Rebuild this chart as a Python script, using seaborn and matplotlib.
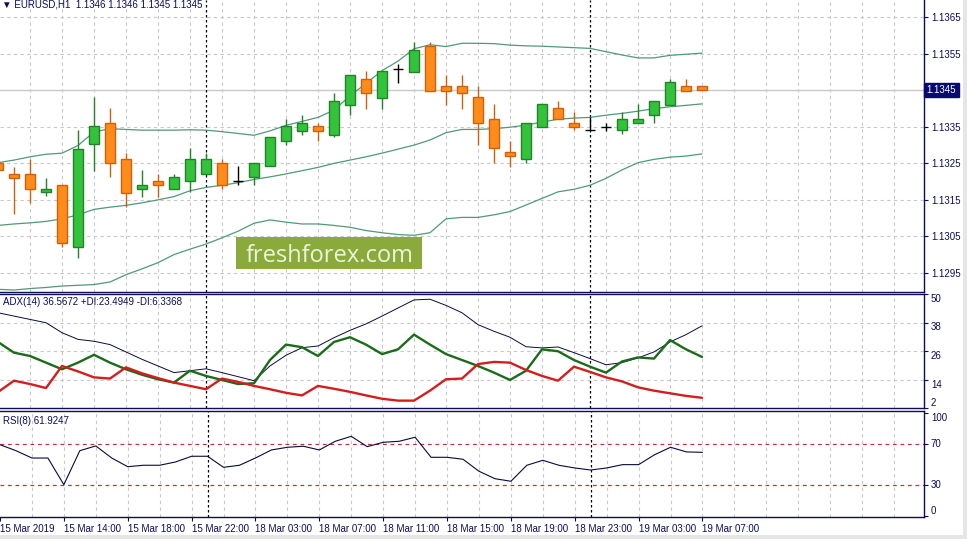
import matplotlib
matplotlib.use("Agg")
import matplotlib.pyplot as plt
from matplotlib.patches import Rectangle
import pandas as pd
import seaborn as sns

sns.set_style("white")
plt.rcParams["font.family"] = ["Liberation Sans", "DejaVu Sans"]

# —————————————————————————————————————————————————————————————————————
# Data (EURUSD H1, 45 bars)
# —————————————————————————————————————————————————————————————————————
opens = [1.13250, 1.13220, 1.13220, 1.13170, 1.13190, 1.13019, 1.13301, 1.13359, 1.13260, 1.13180,
         1.13201, 1.13180, 1.13200, 1.13220, 1.13249, 1.13200, 1.13211, 1.13242, 1.13309, 1.13339,
         1.13351, 1.13328, 1.13409, 1.13479, 1.13429, 1.13508, 1.13500, 1.13571, 1.13461, 1.13461,
         1.13430, 1.13370, 1.13279, 1.13260, 1.13350, 1.13400, 1.13359, 1.13340, 1.13350, 1.13340,
         1.13359, 1.13381, 1.13410, 1.13461, 1.13460]
highs = [1.13260, 1.13240, 1.13260, 1.13210, 1.13190, 1.13340, 1.13431, 1.13400, 1.13278, 1.13231,
         1.13220, 1.13220, 1.13290, 1.13277, 1.13260, 1.13242, 1.13249, 1.13320, 1.13371, 1.13381,
         1.13360, 1.13442, 1.13491, 1.13503, 1.13501, 1.13520, 1.13582, 1.13582, 1.13491, 1.13491,
         1.13461, 1.13412, 1.13310, 1.13359, 1.13412, 1.13420, 1.13390, 1.13375, 1.13360, 1.13390,
         1.13412, 1.13420, 1.13480, 1.13480, 1.13460]
lows = [1.13220, 1.13110, 1.13140, 1.13160, 1.13020, 1.12989, 1.13229, 1.13211, 1.13129, 1.13158,
        1.13158, 1.13180, 1.13171, 1.13220, 1.13180, 1.13189, 1.13189, 1.13242, 1.13300, 1.13328,
        1.13309, 1.13321, 1.13382, 1.13399, 1.13399, 1.13470, 1.13500, 1.13448, 1.13410, 1.13399,
        1.13300, 1.13249, 1.13240, 1.13249, 1.13350, 1.13370, 1.13340, 1.13340, 1.13339, 1.13329,
        1.13359, 1.13359, 1.13410, 1.13448, 1.13450]
closes = [1.13231, 1.13210, 1.13180, 1.13180, 1.13030, 1.13289, 1.13351, 1.13249, 1.13169, 1.13189,
          1.13189, 1.13211, 1.13260, 1.13260, 1.13189, 1.13200, 1.13249, 1.13320, 1.13351, 1.13359,
          1.13339, 1.13419, 1.13491, 1.13441, 1.13501, 1.13508, 1.13560, 1.13448, 1.13448, 1.13441,
          1.13359, 1.13290, 1.13270, 1.13359, 1.13412, 1.13370, 1.13350, 1.13340, 1.13350, 1.13370,
          1.13370, 1.13420, 1.13471, 1.13448, 1.13450]

bb_upper = [1.13251, 1.13258, 1.13267, 1.13274, 1.13277, 1.13298, 1.13335, 1.13344, 1.13342, 1.13340,
            1.13340, 1.13340, 1.13341, 1.13340, 1.13336, 1.13331, 1.13326, 1.13338, 1.13353, 1.13364,
            1.13375, 1.13395, 1.13434, 1.13468, 1.13503, 1.13529, 1.13563, 1.13574, 1.13569, 1.13578,
            1.13578, 1.13577, 1.13573, 1.13571, 1.13570, 1.13568, 1.13566, 1.13564, 1.13555, 1.13546,
            1.13538, 1.13538, 1.13545, 1.13548, 1.13551]
bb_mid = [1.13079, 1.13083, 1.13086, 1.13090, 1.13097, 1.13108, 1.13123, 1.13129, 1.13134, 1.13141,
          1.13149, 1.13158, 1.13174, 1.13183, 1.13189, 1.13196, 1.13205, 1.13212, 1.13220, 1.13229,
          1.13238, 1.13249, 1.13258, 1.13267, 1.13277, 1.13288, 1.13299, 1.13313, 1.13333, 1.13342,
          1.13342, 1.13344, 1.13348, 1.13354, 1.13362, 1.13370, 1.13373, 1.13375, 1.13381, 1.13386,
          1.13392, 1.13399, 1.13404, 1.13408, 1.13412]
bb_lower = [1.12904, 1.12902, 1.12906, 1.12909, 1.12913, 1.12915, 1.12917, 1.12924, 1.12944, 1.12960,
            1.12977, 1.12999, 1.13014, 1.13028, 1.13045, 1.13063, 1.13085, 1.13094, 1.13088, 1.13083,
            1.13083, 1.13079, 1.13074, 1.13065, 1.13059, 1.13054, 1.13052, 1.13059, 1.13097, 1.13101,
            1.13101, 1.13108, 1.13117, 1.13135, 1.13153, 1.13171, 1.13178, 1.13189, 1.13208, 1.13231,
            1.13251, 1.13260, 1.13266, 1.13269, 1.13275]

adx = [42.1, 40.7, 39.3, 37.9, 33.7, 30.9, 30.1, 28.7, 25.6, 22.5, 19.7, 16.9, 17.7, 18.5, 16.9,
       15.2, 13.5, 19.7, 24.2, 27.4, 28.1, 31.6, 34.7, 37.4, 40.7, 44.1, 47.5, 47.8, 45.2, 42.1,
       37.1, 34.3, 31.8, 27.8, 27.3, 27.7, 25.3, 22.8, 20.2, 21.1, 23.1, 25.6, 29.8, 32.9, 36.6]
plus_di = [29.8, 25.3, 23.9, 21.1, 18.3, 21.1, 24.4, 21.1, 18.3, 16.0, 14.1, 12.7, 17.7, 15.5, 13.8,
           12.1, 12.4, 22.2, 28.7, 27.6, 23.9, 29.8, 31.8, 28.7, 24.7, 26.7, 32.9, 28.7, 24.7, 22.2,
           19.7, 16.9, 13.8, 17.7, 26.7, 25.9, 22.2, 19.4, 16.9, 21.6, 23.3, 22.8, 30.6, 26.7, 23.5]
minus_di = [8.7, 13.5, 12.1, 10.4, 19.7, 17.4, 14.9, 14.4, 19.1, 16.6, 14.6, 12.7, 11.3, 9.9, 14.4,
            13.0, 11.3, 9.9, 8.4, 7.3, 11.3, 10.1, 8.8, 7.3, 5.9, 5.1, 5.1, 9.3, 14.1, 14.4,
            20.5, 21.4, 21.1, 18.0, 15.5, 13.5, 19.4, 17.2, 14.9, 13.2, 10.7, 9.3, 8.2, 7.1, 6.3]
rsi = [69.3, 63.5, 56.4, 56.4, 30.6, 63.5, 68.1, 56.4, 48.0, 49.4, 49.4, 52.6, 58.1, 58.1, 47.4,
       49.4, 56.4, 64.2, 66.8, 67.8, 64.2, 72.6, 77.4, 67.4, 71.6, 72.6, 76.5, 57.1, 57.1, 55.2,
       43.6, 36.4, 33.9, 49.4, 54.2, 49.4, 46.8, 44.8, 46.8, 50.0, 50.0, 59.6, 66.8, 62.3, 61.9]

time_ticks = [0, 4, 8, 12, 16, 20, 24, 28, 32, 36, 40, 44]
time_labels = ["15 Mar 2019", "15 Mar 14:00", "15 Mar 18:00", "15 Mar 22:00", "18 Mar 03:00",
               "18 Mar 07:00", "18 Mar 11:00", "18 Mar 15:00", "18 Mar 19:00", "18 Mar 23:00",
               "19 Mar 03:00", "19 Mar 07:00"]
day_breaks = [13, 37]
price_ticks = [1.1295, 1.1305, 1.1315, 1.1325, 1.1335, 1.1345, 1.1355, 1.1365]
adx_ticks = [50, 38, 26, 14, 2]
rsi_ticks = [100, 70, 30, 0]
rsi_levels = [70, 30]
last_price = 1.1345

NAVY = "#0c0c5a"
GRID = "#c8c8c8"
UP, UP_EDGE = "#33c33a", "#23832a"
DN, DN_EDGE = "#ff8c1a", "#d2600a"
BAND = "#4f9a78"

df = pd.DataFrame({"bar": range(len(opens)), "open": opens, "high": highs, "low": lows,
                   "close": closes, "upper": bb_upper, "mid": bb_mid, "lower": bb_lower,
                   "adx": adx, "pdi": plus_di, "mdi": minus_di, "rsi": rsi})

# —————————————————————————————————————————————————————————————————————
# Layout (pixel boxes of an MT4 window)
# —————————————————————————————————————————————————————————————————————
W, H = 967, 539
fig = plt.figure(figsize=(W / 100, H / 100), dpi=100)
fig.patch.set_facecolor("white")

def pix_axes(top, bottom):
    return fig.add_axes([0, (H - bottom) / H, 924 / W, (bottom - top) / H])

ax_main = pix_axes(0, 292)
ax_adx = pix_axes(294, 408)
ax_rsi = pix_axes(411, 517)

for ax in (ax_main, ax_adx, ax_rsi):
    ax.set_xlim(0.125, 57.875)
    ax.set_facecolor("white")
    for s in ("top", "bottom", "right"):
        ax.spines[s].set_color(NAVY)
        ax.spines[s].set_linewidth(1.0)
    ax.spines["left"].set_visible(False)
    ax.yaxis.tick_right()
    ax.tick_params(axis="y", direction="out", length=3, width=0.8, color=NAVY,
                   labelsize=7, labelcolor=NAVY, pad=2)
    ax.tick_params(axis="x", bottom=False, labelbottom=False)
    for b in range(2, 58, 2):
        ax.axvline(b, color=GRID, lw=0.8, dashes=(3, 3), zorder=0)
    for b in day_breaks:
        ax.axvline(b, color="black", lw=0.9, dashes=(2, 2), zorder=1)
ax_main.spines["top"].set_visible(False)

# —————————————————————————————————————————————————————————————————————
# Main: candles + bands
# —————————————————————————————————————————————————————————————————————
ax_main.set_ylim(1.128966, 1.136966)
# the last price gets its own boxed label, so its plain tick label stays empty
ax_main.set_yticks(price_ticks, ["" if p == last_price else f"{p:.4f}" for p in price_ticks])
for p in price_ticks:
    if p != last_price:
        ax_main.axhline(p, color=GRID, lw=0.8, dashes=(3, 3), zorder=0)
ax_main.axhline(last_price, color="#c8c8c8", lw=1.0, zorder=0)

for col in ("upper", "mid", "lower"):
    sns.lineplot(data=df, x="bar", y=col, ax=ax_main, color=BAND, lw=0.9, zorder=2)

for _, r in df.iterrows():
    if r["close"] > r["open"]:
        face, edge = UP, UP_EDGE
    elif r["close"] < r["open"]:
        face, edge = DN, DN_EDGE
    else:
        face, edge = None, "black"
    ax_main.vlines(r["bar"], r["low"], r["high"], color=edge, lw=1.0, zorder=3)
    if face is None:
        ax_main.hlines(r["close"], r["bar"] - 0.34, r["bar"] + 0.34, color="black", lw=1.0, zorder=4)
    else:
        ax_main.bar(r["bar"], abs(r["close"] - r["open"]), bottom=min(r["open"], r["close"]),
                    width=0.62, color=face, edgecolor=edge, lw=1.0, zorder=4)

ax_main.text(1.003, last_price, "1.1345", transform=ax_main.get_yaxis_transform(),
             ha="left", va="center", fontsize=7, color="white", zorder=10, clip_on=False,
             bbox=dict(boxstyle="square,pad=0.25", fc="#0a0a6e", ec="#0a0a6e"))
ax_main.text(0.002, 0.983, "▼ EURUSD,H1  1.1346 1.1346 1.1345 1.1345", transform=ax_main.transAxes,
             ha="left", va="center", fontsize=7, color=NAVY)
ax_main.set_xlabel("")
ax_main.set_ylabel("")

# —————————————————————————————————————————————————————————————————————
# ADX(14)
# —————————————————————————————————————————————————————————————————————
ax_adx.set_ylim(2, 50)
ax_adx.set_yticks(adx_ticks, [str(t) for t in adx_ticks])
for t in adx_ticks[1:-1]:
    ax_adx.axhline(t, color=GRID, lw=0.8, dashes=(3, 3), zorder=0)
sns.lineplot(data=df, x="bar", y="adx", ax=ax_adx, color="#0a0a3c", lw=0.7, zorder=3)
sns.lineplot(data=df, x="bar", y="pdi", ax=ax_adx, color="#1b6b1b", lw=1.7, zorder=4)
sns.lineplot(data=df, x="bar", y="mdi", ax=ax_adx, color="#d41e1e", lw=1.7, zorder=4)
for lab, t in zip(ax_adx.get_yticklabels(), adx_ticks):
    lab.set_va("bottom" if t == 2 else "top")
ax_adx.text(0.003, 0.93, "ADX(14) 36.5672 +DI:23.4949 -DI:6.3368", transform=ax_adx.transAxes,
            ha="left", va="center", fontsize=7, color=NAVY)
ax_adx.set_xlabel("")
ax_adx.set_ylabel("")

# —————————————————————————————————————————————————————————————————————
# RSI(8)
# —————————————————————————————————————————————————————————————————————
ax_rsi.set_ylim(-0.67, 101.9)
ax_rsi.set_yticks(rsi_ticks, [str(t) for t in rsi_ticks])
for lv in rsi_levels:
    ax_rsi.axhline(lv, color="#c83232", lw=0.9, dashes=(3, 3), zorder=1)
sns.lineplot(data=df, x="bar", y="rsi", ax=ax_rsi, color="#0a0a3c", lw=0.8, zorder=3)
for lab, t in zip(ax_rsi.get_yticklabels(), rsi_ticks):
    lab.set_va({100: "top", 0: "bottom"}.get(t, "center"))
ax_rsi.text(0.003, 0.906, "RSI(8) 61.9247", transform=ax_rsi.transAxes,
            ha="left", va="center", fontsize=7, color=NAVY)
ax_rsi.set_xlabel("")
ax_rsi.set_ylabel("")

ax_rsi.set_xticks(time_ticks, time_labels)
ax_rsi.tick_params(axis="x", bottom=True, labelbottom=True, direction="out", length=3,
                   width=0.8, color=NAVY, labelsize=7, labelcolor=NAVY, pad=2)
for lab in ax_rsi.get_xticklabels():
    lab.set_ha("left")

# watermark
fig.patches.append(Rectangle((236 / W, (H - 269) / H), 186 / W, 32 / H, transform=fig.transFigure,
                             facecolor="#8aab3c", edgecolor="none", zorder=20))
fig.text(329.5 / W, (H - 262) / H, "freshforex.com", ha="center", va="baseline",
         fontsize=17, color="#eef4dc", family=["Open Sans", "DejaVu Sans"], zorder=21)

# window frame
fig.patches.append(Rectangle((0, 0), 1, 4 / H, transform=fig.transFigure,
                             facecolor="#e6e6e6", edgecolor="none"))
fig.patches.append(Rectangle((1 - 4 / W, 0), 4 / W, 1, transform=fig.transFigure,
                             facecolor="#e6e6e6", edgecolor="none"))

fig.savefig("out.png", dpi=100)
